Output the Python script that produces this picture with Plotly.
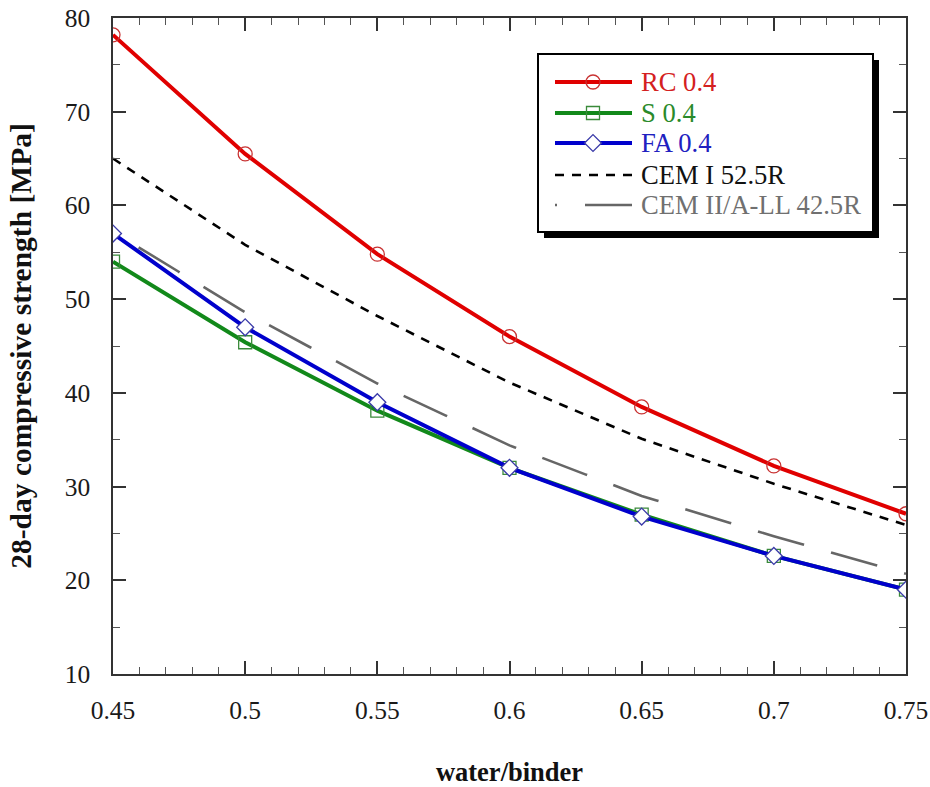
import plotly.graph_objects as go

# ---------------- data ----------------
water_binder = [0.45, 0.5, 0.55, 0.6, 0.65, 0.7, 0.75]
rc_04 = [78.2, 65.5, 54.8, 46.0, 38.5, 32.2, 27.1]
s_04 = [54.0, 45.4, 38.1, 32.0, 27.0, 22.6, 19.0]
fa_04 = [57.0, 47.0, 39.0, 32.0, 26.8, 22.6, 19.0]
cem_i_525r = [65.0, 55.8, 48.2, 41.1, 35.1, 30.3, 25.9]
cem_ii_425r = [57.2, 48.6, 41.0, 34.4, 29.0, 24.7, 20.7]

x_tick_vals = [0.45, 0.5, 0.55, 0.6, 0.65, 0.7, 0.75]
x_tick_text = ["0.45", "0.5", "0.55", "0.6", "0.65", "0.7", "0.75"]
y_tick_vals = [10, 20, 30, 40, 50, 60, 70, 80]

series_names = ["RC 0.4", "S 0.4", "FA 0.4", "CEM I 52.5R", "CEM II/A-LL 42.5R"]

# ---------------- styles ----------------
SERIF = "Liberation Serif"
RED, GREEN, BLUE = "#e00000", "#12891a", "#0000cc"
styles = [
    dict(line=dict(color=RED, width=4), marker=dict(symbol="circle-open", size=14, color="#c83232", line=dict(width=1.3)), text="#d42020"),
    dict(line=dict(color=GREEN, width=4), marker=dict(symbol="square-open", size=13, color="#3a8a3a", line=dict(width=1.3)), text="#2a8a2a"),
    dict(line=dict(color=BLUE, width=4), marker=dict(symbol="diamond", size=13, color="white", line=dict(color="#3a3aa8", width=1.3)), text="#2020c0"),
    dict(line=dict(color="black", width=2.6, dash="9px,8px"), marker=None, text="#111111"),
    dict(line=dict(color="#666666", width=2.6, dash="2px,28px,46px,0px"), marker=None, text="#707070"),
]
values = [rc_04, s_04, fa_04, cem_i_525r, cem_ii_425r]

fig = go.Figure()
draw_order = [3, 4, 1, 2, 0]
for i in draw_order:
    st = styles[i]
    kw = dict(x=water_binder, y=values[i], name=series_names[i], showlegend=False,
              line=st["line"], mode="lines+markers" if st["marker"] else "lines")
    if st["marker"]:
        kw["marker"] = st["marker"]
    fig.add_trace(go.Scatter(**kw))

# ---------------- hand-drawn legend (overlay axes in picture pixels) ----------------
row_y = [82, 113, 143, 175, 205]
x_line0, x_line1, x_mark, x_text = 555, 632, 593, 639
for i, name in enumerate(series_names):
    st = styles[i]
    fig.add_trace(go.Scatter(x=[x_line0, x_line1], y=[row_y[i], row_y[i]], mode="lines",
                             line=st["line"], xaxis="x2", yaxis="y2", showlegend=False, hoverinfo="skip"))
    if st["marker"]:
        fig.add_trace(go.Scatter(x=[x_mark], y=[row_y[i]], mode="markers", marker=st["marker"],
                                 xaxis="x2", yaxis="y2", showlegend=False, hoverinfo="skip"))
    fig.add_annotation(x=x_text, y=row_y[i], xref="x2", yref="y2", text=name, showarrow=False,
                       xanchor="left", yanchor="middle", font=dict(family=SERIF, size=26.6, color=st["text"]))

fig.add_shape(type="rect", xref="x2", yref="y2", x0=544, x1=879, y0=60, y1=238,
              fillcolor="black", line=dict(width=0), layer="below")
fig.add_shape(type="rect", xref="x2", yref="y2", x0=538, x1=873, y0=54, y1=232,
              fillcolor="white", line=dict(color="black", width=2), layer="below")

axis_common = dict(showline=True, linecolor="#333333", linewidth=1.5, mirror="allticks",
                   ticks="inside", ticklen=13, tickwidth=1.5, tickcolor="#333333",
                   showgrid=False, zeroline=False, automargin=False,
                   tickfont=dict(family=SERIF, size=25.5, color="#1a1a1a"))

# plot area at x 113..906, y 18..674 (pixels)
fig.update_layout(
    width=930, height=787,
    margin=dict(l=113, r=24, t=18, b=113),
    paper_bgcolor="white", plot_bgcolor="white",
    xaxis=dict(range=[0.45, 0.75], tickvals=x_tick_vals, ticktext=x_tick_text,
               minor=dict(ticks="inside", ticklen=7, dtick=0.01, tickcolor="#555555", tickwidth=1),
               ticklabelstandoff=13,
               title=dict(text="water/binder", standoff=45,
                          font=dict(family=SERIF, size=26.5, weight="bold", color="#111111")),
               **axis_common),
    yaxis=dict(range=[10, 80], tickvals=y_tick_vals,
               minor=dict(ticks="inside", ticklen=7, dtick=5, tickcolor="#555555", tickwidth=1),
               ticklabelstandoff=16,
               title=dict(text="28-day compressive strength [MPa]", standoff=24,
                          font=dict(family=SERIF, size=29.5, weight="bold", color="#111111")),
               **axis_common),
    xaxis2=dict(overlaying="x", range=[113, 906], visible=False, fixedrange=True, automargin=False),
    yaxis2=dict(overlaying="y", range=[674, 18], visible=False, fixedrange=True, automargin=False),
)

pin_js = ("document.body.style.margin='0';document.body.style.overflow='hidden';"
          "var g=document.getElementById('{plot_id}');g.style.position='absolute';"
          "g.style.left='0px';g.style.top='0px';")
fig.write_html("out.html", post_script=pin_js, config={"displayModeBar": False})
